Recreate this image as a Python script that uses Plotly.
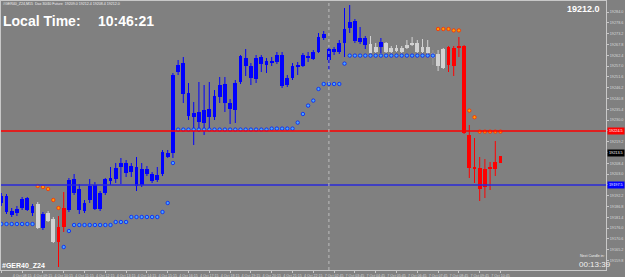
import plotly.graph_objects as go

# ---------------- data ----------------
opens = [19188.5, 19184.0, 19182.5, 19183.5, 19186.0, 19185.0, 19183.5, 19188.0, 19176.0, 19183.5,
         19180.5, 19176.5, 19186.0, 19185.0, 19193.5, 19185.0, 19184.5, 19190.0, 19197.5, 19185.5,
         19193.5, 19199.5, 19200.5, 19206.5, 19203.5, 19204.0, 19197.0, 19197.5, 19203.0, 19199.5,
         19200.0, 19203.0, 19211.5, 19213.5, 19254.0, 19243.0, 19232.0, 19231.5, 19229.0, 19228.5,
         19231.5, 19231.5, 19241.5, 19238.5, 19235.5, 19235.0, 19249.0, 19257.0, 19251.0, 19250.5,
         19258.0, 19257.5, 19258.5, 19259.0, 19247.0, 19247.5, 19251.0, 19256.5, 19257.0, 19261.0,
         19260.5, 19264.0, 19271.0, 19260.0, 19264.0, 19264.0, 19268.5, 19276.0, 19269.5, 19269.0,
         19267.5, 19268.0, 19266.5, 19266.5, 19268.5, 19266.0, 19266.0, 19266.0, 19267.5, 19268.0,
         19268.5, 19266.5, 19266.5, 19263.5, 19263.0, 19265.5, 19266.5, 19266.0, 19267.0, 19267.0,
         19222.5, 19206.5, 19206.0, 19205.5, 19206.0, 19209.0, 19212.0]
highs = [19193.5, 19193.0, 19186.0, 19187.0, 19191.5, 19191.5, 19188.0, 19189.0, 19184.0, 19184.5,
         19181.5, 19182.0, 19194.0, 19201.0, 19203.0, 19198.0, 19190.0, 19200.5, 19199.0, 19194.5,
         19201.0, 19206.5, 19208.5, 19211.0, 19210.0, 19208.5, 19211.5, 19208.5, 19207.0, 19204.0,
         19206.5, 19215.0, 19215.0, 19253.5, 19260.0, 19261.5, 19248.5, 19239.0, 19249.0, 19247.5,
         19249.0, 19245.0, 19251.5, 19251.5, 19240.5, 19250.0, 19262.5, 19265.5, 19258.5, 19262.5,
         19262.5, 19261.0, 19261.5, 19264.0, 19264.0, 19252.5, 19258.5, 19259.0, 19263.5, 19264.0,
         19265.0, 19273.5, 19274.5, 19266.5, 19266.5, 19270.0, 19286.0, 19287.5, 19280.5, 19276.5,
         19272.0, 19272.0, 19268.5, 19271.0, 19269.0, 19267.0, 19267.5, 19267.0, 19270.0, 19271.5,
         19270.0, 19270.5, 19270.0, 19265.0, 19265.0, 19266.0, 19267.0, 19267.0, 19271.5, 19267.5,
         19227.5, 19221.0, 19211.5, 19210.5, 19209.0, 19219.5, 19212.0]
lows = [19187.0, 19183.0, 19181.5, 19182.0, 19185.0, 19184.5, 19182.0, 19175.5, 19175.0, 19179.0,
        19168.5, 19156.5, 19174.0, 19184.0, 19192.5, 19183.0, 19183.5, 19188.5, 19185.0, 19184.5,
        19192.5, 19197.5, 19198.5, 19198.0, 19201.5, 19201.5, 19194.5, 19196.5, 19202.0, 19198.5,
        19199.0, 19202.0, 19211.0, 19211.0, 19252.5, 19238.5, 19230.0, 19217.5, 19224.0, 19222.5,
        19225.0, 19230.0, 19238.5, 19234.0, 19228.0, 19228.5, 19248.0, 19252.0, 19247.5, 19248.5,
        19254.0, 19253.5, 19257.0, 19258.0, 19246.0, 19246.5, 19250.0, 19252.5, 19256.5, 19259.0,
        19260.0, 19263.5, 19270.0, 19255.0, 19262.5, 19263.0, 19261.5, 19273.5, 19268.5, 19268.0,
        19265.5, 19263.5, 19263.5, 19263.5, 19263.5, 19263.5, 19264.0, 19263.5, 19265.5, 19267.0,
        19263.5, 19263.5, 19263.0, 19257.5, 19254.5, 19255.5, 19254.0, 19252.0, 19261.5, 19223.0,
        19201.0, 19198.5, 19189.5, 19191.0, 19195.0, 19202.0, 19208.5]
closes = [19192.0, 19192.0, 19184.5, 19185.5, 19190.5, 19191.0, 19187.0, 19176.0, 19183.0, 19179.5,
          19169.0, 19169.0, 19176.5, 19200.0, 19200.5, 19195.5, 19188.5, 19197.0, 19185.5, 19193.5,
          19200.5, 19201.0, 19206.0, 19208.5, 19208.5, 19207.0, 19206.5, 19205.5, 19205.5, 19203.0,
          19202.5, 19214.0, 19213.5, 19252.5, 19257.5, 19258.5, 19243.5, 19233.5, 19234.0, 19235.0,
          19235.5, 19242.0, 19247.5, 19248.0, 19238.5, 19248.5, 19262.0, 19261.0, 19257.0, 19261.0,
          19261.5, 19259.5, 19259.0, 19262.5, 19262.5, 19251.0, 19257.0, 19257.0, 19262.5, 19262.0,
          19264.0, 19271.5, 19273.0, 19265.5, 19265.5, 19268.5, 19275.5, 19279.0, 19279.5, 19271.0,
          19271.0, 19263.5, 19264.0, 19269.0, 19264.0, 19264.0, 19264.5, 19264.0, 19266.0, 19267.5,
          19264.0, 19264.0, 19263.5, 19261.0, 19257.0, 19256.0, 19257.5, 19257.0, 19266.0, 19223.5,
          19206.0, 19205.5, 19195.5, 19196.5, 19205.5, 19205.5, 19208.5]
trend = (["up"] * 7 + ["flat", "up", "flat", "flat", "down", "down"] + ["up"] * 58
         + ["flat", "flat", "up"] + ["flat"] * 9 + ["weak", "flat", "flat"] + ["down"] * 11)
sar = ([19178.0] * 7 + [19197.0, 19196.5, 19195.5, 19190.0, 19186.0, 19166.5, 19174.5]
       + [19177.5] * 8 + [19179.0] * 3 + [19181.5] * 6 + [19184.0, 19188.5, 19208.5]
       + [19225.2] * 18 + [19225.7] * 5
       + [19228.7, 19233.0, 19237.2, 19239.7, 19245.5] + [19248.0] * 4 + [19258.2]
       + [19262.2] * 17 + [19275.5] * 3 + [19274.8] * 2 + [None, 19234.7, 19231.4] + [19224.2] * 5)

red_level = 19224.5
blue_level = 19197.5
ask_level = 19213.5
bid_text = "19212.0"
separator_bar = 63

price_ticks = [19284.0, 19278.6, 19273.2, 19267.8, 19262.4, 19257.0, 19251.6, 19246.2, 19240.8,
               19235.4, 19230.0, 19224.6, 19219.2, 19213.8, 19208.4, 19203.0, 19197.6, 19192.2,
               19186.8, 19181.4, 19176.0, 19170.6, 19165.2, 19159.8]
time_tick_bars = list(range(0, 97, 4))
time_tick_text = ["4 Oct 2024", "4 Oct 08:15", "4 Oct 09:15", "4 Oct 10:15", "4 Oct 11:15",
                  "4 Oct 12:15", "4 Oct 13:15", "4 Oct 14:15", "4 Oct 15:15", "4 Oct 16:15",
                  "4 Oct 17:15", "4 Oct 18:15", "4 Oct 19:15", "4 Oct 20:15", "4 Oct 21:15",
                  "4 Oct 22:15", "7 Oct 02:45", "7 Oct 03:45", "7 Oct 04:45", "7 Oct 05:45",
                  "7 Oct 06:45", "7 Oct 07:45", "7 Oct 08:45", "7 Oct 09:45", "7 Oct 10:45"]

# ---------------- figure ----------------
W, H = 625, 277
ML, MR, MT, MB = 1, 19, 1, 7
PW, PH = W - ML - MR, H - MT - MB
BG = "#808080"
TXT = "#f0f0f0"
FONT = "Arial, Liberation Sans, sans-serif"
COL = {"up": "#0000ff", "down": "#ff0000", "flat": "#d2d2d2", "weak": "#9a9a9a"}

idx = list(range(len(opens)))
fig = go.Figure()

body_base = [min(o, c) for o, c in zip(opens, closes)]
body_h = [max(abs(c - o), 0.6) for o, c in zip(opens, closes)]
fig.add_trace(go.Bar(x=idx, y=body_h, base=body_base, width=0.72,
                     marker=dict(color=[COL[t] for t in trend], line=dict(width=0)),
                     hoverinfo="skip"))

for state, colr in COL.items():
    xs, ys = [], []
    for i, t in enumerate(trend):
        if t == state:
            xs += [i, i, None]
            ys += [lows[i], highs[i], None]
    fig.add_trace(go.Scatter(x=xs, y=ys, mode="lines", line=dict(color=colr, width=1),
                             hoverinfo="skip"))

below_x, below_y, above_x, above_y = [], [], [], []
for i, s in enumerate(sar):
    if s is None:
        continue
    if s > highs[i]:
        above_x.append(i); above_y.append(s)
    else:
        below_x.append(i); below_y.append(s)
fig.add_trace(go.Scatter(x=below_x, y=below_y, mode="markers",
                         marker=dict(size=3.4, color="#4aa8ff", line=dict(color="#0020ff", width=0.8)),
                         hoverinfo="skip"))
fig.add_trace(go.Scatter(x=above_x, y=above_y, mode="markers",
                         marker=dict(size=3.4, color="#ffa000", line=dict(color="#ff2a00", width=0.8)),
                         hoverinfo="skip"))

fig.add_hline(y=red_level, line=dict(color="#ff0000", width=1.5))
fig.add_hline(y=blue_level, line=dict(color="#2a2ad8", width=1.5))
fig.add_vline(x=separator_bar, line=dict(color="#bcbcbc", width=1, dash="dot"))


def px(X):
    return (X - ML) / PW


def py(Y):
    return 1 - (Y - MT) / PH


def note(text, X, Y, size, bold=False, color=TXT, xanchor="left"):
    fig.add_annotation(x=px(X), y=py(Y), xref="paper", yref="paper", text=(f"<b>{text}</b>" if bold else text),
                       showarrow=False, xanchor=xanchor, yanchor="middle",
                       font=dict(family=FONT, size=size, color=color), borderpad=0)


note("#GER40_Z24,M15  Dax 30/40 Future  19209.0 19212.4 19208.4 19212.0", 2, 4, 3.6)
note("Local Time:", 2, 21, 14, bold=True, color="#ffffff")
note("10:46:21", 97, 21, 14, bold=True, color="#ffffff")
note(bid_text, 601, 9, 9, bold=True, color="#ffffff", xanchor="right")
note("#GER40_Z24", 1, 265, 7, bold=True, color="#ffffff")
note("Next Candle in:", 579, 256, 3.6)
note("00:13:39", 578, 264, 8)

for lvl, bg in [(red_level, "#ff0000"), (blue_level, "#0000ff"), (ask_level, "#000000")]:
    fig.add_annotation(x=1, y=lvl, xref="paper", yref="y", text=f"{lvl:.1f}", showarrow=False,
                       xanchor="left", yanchor="middle", xshift=1, bgcolor=bg, borderpad=1,
                       font=dict(family=FONT, size=3.8, color="#ffffff"))

fig.update_layout(
    width=W, height=H, margin=dict(l=ML, r=MR, t=MT, b=MB, pad=0),
    paper_bgcolor=BG, plot_bgcolor=BG, showlegend=False, template="none",
    bargap=0, hovermode=False,
    xaxis=dict(range=[-0.06, 116.29], showgrid=False, zeroline=False, showline=True, mirror=True,
               linecolor="#c8c8c8", linewidth=1, ticks="outside", ticklen=2, tickcolor="#c8c8c8",
               tickvals=time_tick_bars, ticktext=time_tick_text, tickangle=0,
               tickfont=dict(family=FONT, size=3.6, color="#d8d8d8"), automargin=False),
    yaxis=dict(range=[19155.0, 19289.5], side="right", showgrid=False, zeroline=False,
               showline=True, mirror=True, linecolor="#c8c8c8", linewidth=1,
               ticks="outside", ticklen=2, tickcolor="#c8c8c8",
               tickvals=price_ticks, ticktext=[f"{v:.1f}" for v in price_ticks],
               tickfont=dict(family=FONT, size=3.8, color="#d8d8d8"), automargin=False),
)

fig.write_html("out.html")
